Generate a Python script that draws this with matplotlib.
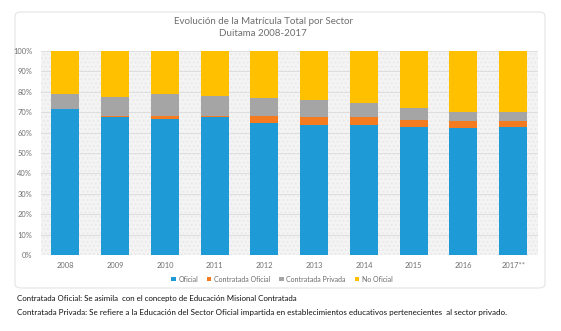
import matplotlib
matplotlib.use("Agg")
import matplotlib.pyplot as plt
from matplotlib.patches import FancyBboxPatch, Rectangle
from matplotlib.ticker import FuncFormatter
import numpy as np

years = ["2008", "2009", "2010", "2011", "2012", "2013", "2014", "2015", "2016", "2017**"]
oficial = [71.6, 67.6, 66.7, 67.6, 64.6, 63.9, 63.7, 62.6, 62.3, 62.6]
contratada_oficial = [0.2, 0.4, 1.6, 0.5, 3.5, 3.7, 3.9, 3.7, 3.2, 3.2]
contratada_privada = [7.1, 9.5, 10.6, 9.8, 8.9, 8.4, 7.1, 5.8, 4.7, 4.1]
no_oficial = [21.1, 22.5, 21.1, 22.1, 23.0, 24.0, 25.3, 27.9, 29.8, 30.1]

series_names = ["Oficial", "Contratada Oficial", "Contratada Privada", "No Oficial"]
series_colors = ["#1E9BD7", "#F47B20", "#A5A5A5", "#FFC000"]

W, H = 561, 331
fig = plt.figure(figsize=(W / 100, H / 100), dpi=100)
fig.patch.set_facecolor("white")
FONT = ["Lato", "DejaVu Sans"]

# rounded chart frame, kept behind the axes
frame = FancyBboxPatch((15 / W, (H - 288) / H), 530 / W, 276 / H,
                       boxstyle="round,pad=0,rounding_size=0.012",
                       transform=fig.transFigure, facecolor="white",
                       edgecolor="#E4E4E4", linewidth=0.8, zorder=-5)
fig.patches.append(frame)

ax = fig.add_axes([40.5 / W, (H - 255) / H, 497.5 / W, 204 / H], zorder=2)
ax.set_facecolor("#F4F4F4")
ax.add_patch(Rectangle((0, 0), 1, 1, transform=ax.transAxes, facecolor="none",
                       edgecolor="#EAEAEA", hatch="....", linewidth=0, zorder=0))

x = np.arange(len(years))
bottom = np.zeros(len(years))
for name, vals, col in zip(series_names,
                           [oficial, contratada_oficial, contratada_privada, no_oficial],
                           series_colors):
    vals = np.array(vals)
    ax.bar(x, vals, width=0.565, bottom=bottom, color=col, label=name,
           edgecolor="none", zorder=3)
    bottom += vals

ax.set_xlim(-0.5, len(years) - 0.5)
ax.set_ylim(0, 100)
ax.set_yticks(np.arange(0, 101, 10))
ax.yaxis.set_major_formatter(FuncFormatter(lambda v, p: f"{int(v)}%"))
ax.grid(axis="y", color="#DEDEDE", linewidth=0.7, zorder=1)
ax.set_axisbelow(True)
ax.set_xticks(x)
ax.set_xticklabels(years)
for s in ax.spines.values():
    s.set_visible(False)
ax.tick_params(axis="both", length=0, labelsize=5.4, colors="#707070", pad=5)
ax.tick_params(axis="y", pad=6)
for lbl in ax.get_xticklabels() + ax.get_yticklabels():
    lbl.set_family(FONT)

fig.text(263 / W, 1 - 21 / H, "Evolución de la Matrícula Total por Sector",
         ha="center", va="center", fontsize=7.0, color="#6E6E6E", family=FONT)
fig.text(263 / W, 1 - 34 / H, "Duitama 2008-2017",
         ha="center", va="center", fontsize=7.0, color="#6E6E6E", family=FONT)

leg = fig.legend(loc="center", bbox_to_anchor=(282 / W, 1 - 279 / H), ncol=4,
                 frameon=False, handlelength=0.6, handleheight=0.6,
                 handletextpad=0.4, columnspacing=1.3, prop={"family": FONT, "size": 5})
for t in leg.get_texts():
    t.set_color("#6B6B6B")

fig.text(17 / W, 1 - 298 / H,
         "Contratada Oficial: Se asimila  con el concepto de Educación Misional Contratada",
         ha="left", va="center", fontsize=5.7, color="#111111", family=FONT)
fig.text(17 / W, 1 - 313 / H,
         "Contratada Privada: Se refiere a la Educación del Sector Oficial impartida en "
         "establecimientos educativos pertenecientes  al sector privado.",
         ha="left", va="center", fontsize=5.75, color="#111111", family=FONT)

fig.savefig("out.png", dpi=100)
